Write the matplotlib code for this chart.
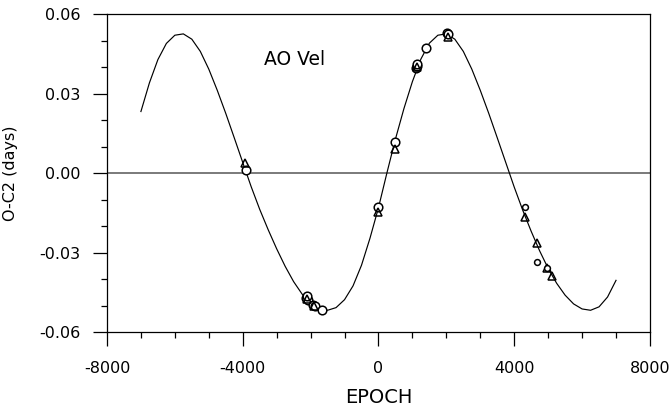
import numpy as np
import matplotlib
matplotlib.use('Agg')
import matplotlib.pyplot as plt

# fitted O-C2 curve, every 250 epochs from -7000 to 7000
curve_epoch = np.arange(-7000, 7001, 250)
curve_oc = [0.0232, 0.0340, 0.0428, 0.0489, 0.0520, 0.0525, 0.0505, 0.0459,
            0.0392, 0.0312, 0.0225, 0.0133, 0.0040, -0.0052, -0.0137, -0.0214,
            -0.0286, -0.0352, -0.0410, -0.0457, -0.0492, -0.0512, -0.0518, -0.0508,
            -0.0478, -0.0426, -0.0348, -0.0246, -0.0131, 0.0001, 0.0128, 0.0243,
            0.0345, 0.0430, 0.0490, 0.0520, 0.0525, 0.0505, 0.0459, 0.0392,
            0.0312, 0.0225, 0.0133, 0.0040, -0.0053, -0.0140, -0.0220, -0.0294,
            -0.0360, -0.0416, -0.0461, -0.0494, -0.0513, -0.0518, -0.0505, -0.0468,
            -0.0405]

# observed minima
circ_epoch = [-3910, -2130, -2090, -2110, -1920, -1880, -1670, 0, 490,
              1110, 1140, 1125, 1400, 2030, 2060]
circ_oc = [0.0011, -0.0470, -0.0478, -0.0466, -0.0497, -0.0503, -0.0517, -0.0128, 0.0117,
           0.0398, 0.0405, 0.0411, 0.0472, 0.0528, 0.0525]

tri_epoch = [-3940, -2110, -1890, 0, 480, 1130, 2050, 4320, 4660, 4970, 5110]
tri_oc = [0.0038, -0.0474, -0.0500, -0.0147, 0.0092, 0.0401, 0.0514,
          -0.0166, -0.0265, -0.0358, -0.0387]

small_epoch = [4320, 4660, 4960]
small_oc = [-0.0129, -0.0334, -0.0357]

plt.rcParams['font.family'] = ['DejaVu Sans']
plt.rcParams['axes.unicode_minus'] = False

fig = plt.figure(figsize=(6.72, 4.11), dpi=100)
ax = fig.add_axes([0.1592, 0.1922, 0.8080, 0.7737])

ax.axhline(0, color='#707070', lw=1.3, zorder=1)
ax.plot(curve_epoch, curve_oc, color='black', lw=0.85, zorder=2)
ax.plot(circ_epoch, circ_oc, 'o', ms=6.2, mfc='white', mec='black', mew=1.1, ls='none', zorder=3)
ax.plot(tri_epoch, tri_oc, '^', ms=5.2, mfc='none', mec='black', mew=1.1, ls='none', zorder=4)
ax.plot(small_epoch, small_oc, 'o', ms=4.2, mfc='white', mec='black', mew=1.1, ls='none', zorder=4)

ax.set_xlim(-8000, 8000)
ax.set_ylim(-0.06, 0.06)
ax.set_xticks([-8000, -4000, 0, 4000, 8000])
ax.set_xticks(np.arange(-8000, 8001, 1000), minor=True)
ax.set_yticks([-0.06, -0.03, 0.0, 0.03, 0.06])
ax.set_yticks(np.arange(-0.06, 0.0601, 0.01), minor=True)
ax.set_yticklabels(['-0.06', '-0.03', '0.00', '0.03', '0.06'])

ax.tick_params(which='both', direction='out', top=False, right=False, width=0.9)
ax.tick_params(which='major', length=10, labelsize=11.5)
ax.tick_params(axis='x', which='major', pad=11)
ax.tick_params(axis='y', which='major', pad=9)
ax.tick_params(which='minor', length=4)
for s in ax.spines.values():
    s.set_linewidth(0.9)

ax.set_xlabel('EPOCH', fontsize=14)
ax.xaxis.set_label_coords(0.5, -0.205)
ax.set_ylabel('O-C2 (days)', fontsize=11.5)
ax.yaxis.set_label_coords(-0.177, 0.5)
ax.yaxis.label.set_va('center')
ax.xaxis.label.set_va('center')

ax.text(-2460, 0.043, 'AO Vel', fontsize=13.5, ha='center', va='center')

fig.savefig('out.png', dpi=100)
